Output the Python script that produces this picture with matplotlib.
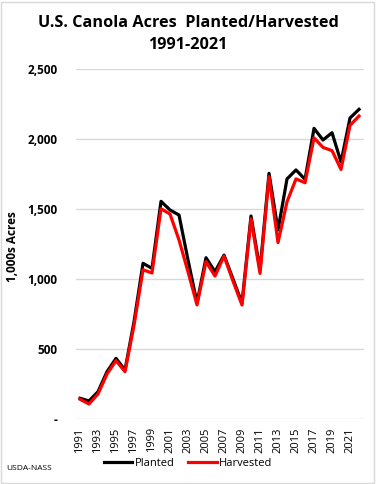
import matplotlib
matplotlib.use("Agg")
import matplotlib.pyplot as plt
from matplotlib.patches import Rectangle

years = list(range(1991, 2023))
planted = [148, 129, 195, 338, 433, 350, 695, 1112, 1076, 1555, 1493, 1457, 1136, 830,
           1152, 1052, 1171, 1000, 828, 1450, 1065, 1755, 1350, 1715, 1779, 1712,
           2076, 1993, 2045, 1836, 2150, 2212]
harvested = [141, 107, 179, 321, 417, 338, 670, 1066, 1043, 1502, 1464, 1279, 1052, 815,
             1124, 1021, 1164, 985, 814, 1430, 1040, 1731, 1260, 1552, 1715, 1688,
             2008, 1940, 1917, 1783, 2098, 2164]
yticks = [0, 500, 1000, 1500, 2000, 2500]
ytick_labels = ["-", "500", "1,000", "1,500", "2,000", "2,500"]
xtick_years = list(range(1991, 2022, 2))

plt.rcParams['font.family'] = ['Open Sans', 'DejaVu Sans']

fig = plt.figure(figsize=(3.76, 4.84), dpi=100)
ax = fig.add_axes([0.2008, 0.1343, 0.766, 0.7231])

ax.plot(years, planted, color="black", lw=2.3, label="Planted", zorder=3)
ax.plot(years, harvested, color="#ff0000", lw=2.3, label="Harvested", zorder=4)

ax.set_xlim(1990.5, 2022.5)
ax.set_ylim(0, 2500)
ax.set_yticks(yticks)
ax.set_yticklabels(ytick_labels, fontsize=8.5, fontweight="bold")
ax.set_xticks(xtick_years)
ax.set_xticklabels([str(y) for y in xtick_years], rotation=90, fontsize=8)
ax.tick_params(axis="y", length=0, pad=13)
ax.tick_params(axis="x", length=0, pad=6)
ax.grid(axis="y", color="#d9d9d9", lw=1)
ax.set_axisbelow(True)
for s in ax.spines.values():
    s.set_visible(False)

fig.text(0.5, 0.953, "U.S. Canola Acres  Planted/Harvested", ha="center", va="center",
         fontsize=11.7, fontweight="bold")
fig.text(0.5, 0.906, "1991-2021", ha="center", va="center",
         fontsize=11.7, fontweight="bold")
fig.text(0.032, 0.49, "1,000s Acres", rotation=90, ha="center", va="center",
         fontsize=8.5, fontweight="bold")
fig.text(0.016, 0.033, "USDA-NASS", ha="left", va="center", fontsize=6)

fig.legend(loc="center", bbox_to_anchor=(0.5, 0.043), ncol=2, frameon=False,
           fontsize=8, handlelength=2.6, columnspacing=1.2, handletextpad=0.2)

fig.patches.append(Rectangle((0.002, 0.002), 0.994, 0.994, transform=fig.transFigure,
                             fill=False, edgecolor="#d9d9d9", lw=1))

fig.savefig("out.png", dpi=100)
